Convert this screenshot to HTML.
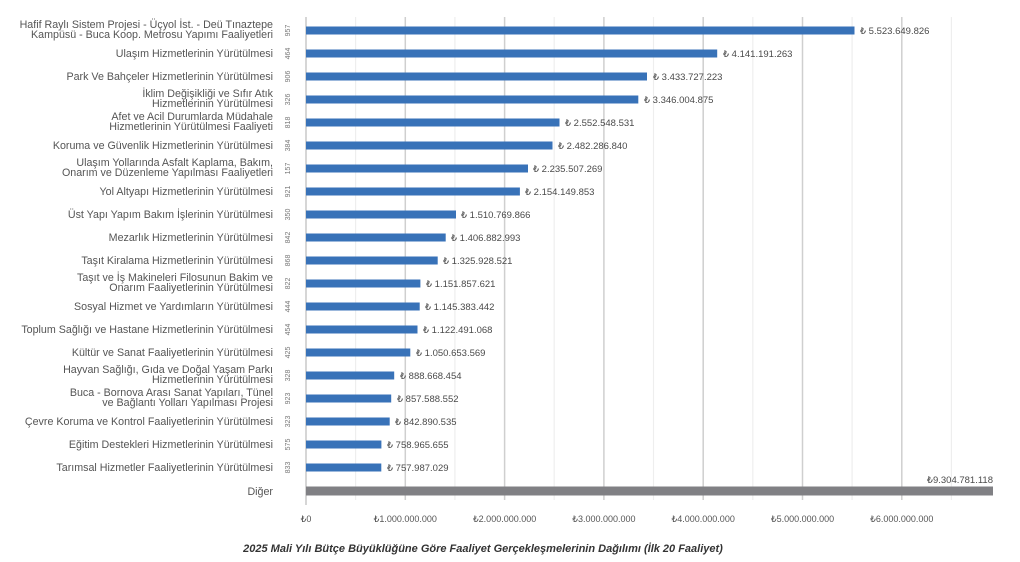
<!DOCTYPE html>
<html><head><meta charset="utf-8"><style>
html,body{margin:0;padding:0;background:#fff;}
svg{display:block;font-family:"Liberation Sans",sans-serif;}
.l{font-size:10.7px;fill:#555;text-anchor:end;}
.v{font-size:9.5px;fill:#4a4a4a;}
.n{font-size:7px;fill:#777;text-anchor:middle;}
.t{font-size:9px;fill:#555;text-anchor:middle;}
</style></head><body>
<svg width="1020" height="562" viewBox="0 0 1020 562">
<g stroke="#eeeeee" stroke-width="1.2">
<line x1="355.6" y1="17" x2="355.6" y2="500"/><line x1="454.9" y1="17" x2="454.9" y2="500"/><line x1="554.2" y1="17" x2="554.2" y2="500"/><line x1="653.5" y1="17" x2="653.5" y2="500"/><line x1="752.8" y1="17" x2="752.8" y2="500"/><line x1="852.1" y1="17" x2="852.1" y2="500"/><line x1="951.4" y1="17" x2="951.4" y2="500"/>
</g>
<g stroke="#cfcfcf" stroke-width="1.5">
<line x1="405.3" y1="17" x2="405.3" y2="500"/><line x1="504.6" y1="17" x2="504.6" y2="500"/><line x1="603.9" y1="17" x2="603.9" y2="500"/><line x1="703.2" y1="17" x2="703.2" y2="500"/><line x1="802.5" y1="17" x2="802.5" y2="500"/><line x1="901.8" y1="17" x2="901.8" y2="500"/>
</g>
<line x1="306" y1="17" x2="306" y2="505" stroke="#c8c8c8" stroke-width="1.5"/>
<g fill="#3872b8">
<rect x="306" y="26.5" width="548.5" height="8"/>
<rect x="306" y="49.5" width="411.2" height="8"/>
<rect x="306" y="72.5" width="341" height="8"/>
<rect x="306" y="95.5" width="332.3" height="8"/>
<rect x="306" y="118.5" width="253.5" height="8"/>
<rect x="306" y="141.5" width="246.5" height="8"/>
<rect x="306" y="164.5" width="222" height="8"/>
<rect x="306" y="187.5" width="213.9" height="8"/>
<rect x="306" y="210.5" width="150" height="8"/>
<rect x="306" y="233.5" width="139.7" height="8"/>
<rect x="306" y="256.5" width="131.7" height="8"/>
<rect x="306" y="279.5" width="114.4" height="8"/>
<rect x="306" y="302.5" width="113.7" height="8"/>
<rect x="306" y="325.5" width="111.5" height="8"/>
<rect x="306" y="348.5" width="104.3" height="8"/>
<rect x="306" y="371.5" width="88.2" height="8"/>
<rect x="306" y="394.5" width="85.2" height="8"/>
<rect x="306" y="417.5" width="83.7" height="8"/>
<rect x="306" y="440.5" width="75.4" height="8"/>
<rect x="306" y="463.5" width="75.3" height="8"/>
</g>
<rect x="306" y="486.5" width="687" height="9" fill="#808084"/>
<g class="v">
<text x="860" y="34">₺ 5.523.649.826</text>
<text x="723" y="57">₺ 4.141.191.263</text>
<text x="653" y="80">₺ 3.433.727.223</text>
<text x="644" y="103">₺ 3.346.004.875</text>
<text x="565" y="126">₺ 2.552.548.531</text>
<text x="558" y="149">₺ 2.482.286.840</text>
<text x="533" y="172">₺ 2.235.507.269</text>
<text x="525" y="195">₺ 2.154.149.853</text>
<text x="461" y="218">₺ 1.510.769.866</text>
<text x="451" y="241">₺ 1.406.882.993</text>
<text x="443" y="264">₺ 1.325.928.521</text>
<text x="426" y="287">₺ 1.151.857.621</text>
<text x="425" y="310">₺ 1.145.383.442</text>
<text x="423" y="333">₺ 1.122.491.068</text>
<text x="416" y="356">₺ 1.050.653.569</text>
<text x="400" y="379">₺ 888.668.454</text>
<text x="397" y="402">₺ 857.588.552</text>
<text x="395" y="425">₺ 842.890.535</text>
<text x="387" y="448">₺ 758.965.655</text>
<text x="387" y="471">₺ 757.987.029</text>
<text x="993" y="483" text-anchor="end">₺9.304.781.118</text>
</g>
<g class="l">
<text x="273" y="28">Hafif Raylı Sistem Projesi - Üçyol İst. - Deü Tınaztepe</text>
<text x="273" y="38">Kampüsü - Buca Koop. Metrosu Yapımı Faaliyetleri</text>
<text x="273" y="57">Ulaşım Hizmetlerinin Yürütülmesi</text>
<text x="273" y="80">Park Ve Bahçeler Hizmetlerinin Yürütülmesi</text>
<text x="273" y="97">İklim Değişikliği ve Sıfır Atık</text>
<text x="273" y="107">Hizmetlerinin Yürütülmesi</text>
<text x="273" y="120">Afet ve Acil Durumlarda Müdahale</text>
<text x="273" y="130">Hizmetlerinin Yürütülmesi Faaliyeti</text>
<text x="273" y="149">Koruma ve Güvenlik Hizmetlerinin Yürütülmesi</text>
<text x="273" y="166">Ulaşım Yollarında Asfalt Kaplama, Bakım,</text>
<text x="273" y="176">Onarım ve Düzenleme Yapılması Faaliyetleri</text>
<text x="273" y="195">Yol Altyapı Hizmetlerinin Yürütülmesi</text>
<text x="273" y="218">Üst Yapı Yapım Bakım İşlerinin Yürütülmesi</text>
<text x="273" y="241">Mezarlık Hizmetlerinin Yürütülmesi</text>
<text x="273" y="264">Taşıt Kiralama Hizmetlerinin Yürütülmesi</text>
<text x="273" y="281">Taşıt ve İş Makineleri Filosunun Bakim ve</text>
<text x="273" y="291">Onarım Faaliyetlerinin Yürütülmesi</text>
<text x="273" y="310">Sosyal Hizmet ve Yardımların Yürütülmesi</text>
<text x="273" y="333">Toplum Sağlığı ve Hastane Hizmetlerinin Yürütülmesi</text>
<text x="273" y="356">Kültür ve Sanat Faaliyetlerinin Yürütülmesi</text>
<text x="273" y="373">Hayvan Sağlığı, Gıda ve Doğal Yaşam Parkı</text>
<text x="273" y="383">Hizmetlerinin Yürütülmesi</text>
<text x="273" y="396">Buca - Bornova Arası Sanat Yapıları, Tünel</text>
<text x="273" y="406">ve Bağlantı Yolları Yapılması Projesi</text>
<text x="273" y="425">Çevre Koruma ve Kontrol Faaliyetlerinin Yürütülmesi</text>
<text x="273" y="448">Eğitim Destekleri Hizmetlerinin Yürütülmesi</text>
<text x="273" y="471">Tarımsal Hizmetler Faaliyetlerinin Yürütülmesi</text>
<text x="273" y="495">Diğer</text>
</g>
<g class="n">
<text transform="translate(290,30.5) rotate(-90)">957</text>
<text transform="translate(290,53.5) rotate(-90)">464</text>
<text transform="translate(290,76.5) rotate(-90)">906</text>
<text transform="translate(290,99.5) rotate(-90)">326</text>
<text transform="translate(290,122.5) rotate(-90)">818</text>
<text transform="translate(290,145.5) rotate(-90)">384</text>
<text transform="translate(290,168.5) rotate(-90)">157</text>
<text transform="translate(290,191.5) rotate(-90)">921</text>
<text transform="translate(290,214.5) rotate(-90)">350</text>
<text transform="translate(290,237.5) rotate(-90)">842</text>
<text transform="translate(290,260.5) rotate(-90)">868</text>
<text transform="translate(290,283.5) rotate(-90)">822</text>
<text transform="translate(290,306.5) rotate(-90)">444</text>
<text transform="translate(290,329.5) rotate(-90)">454</text>
<text transform="translate(290,352.5) rotate(-90)">425</text>
<text transform="translate(290,375.5) rotate(-90)">328</text>
<text transform="translate(290,398.5) rotate(-90)">923</text>
<text transform="translate(290,421.5) rotate(-90)">323</text>
<text transform="translate(290,444.5) rotate(-90)">575</text>
<text transform="translate(290,467.5) rotate(-90)">833</text>
</g>
<g class="t">
<text x="306" y="522">₺0</text>
<text x="405.3" y="522">₺1.000.000.000</text>
<text x="504.6" y="522">₺2.000.000.000</text>
<text x="603.9" y="522">₺3.000.000.000</text>
<text x="703.2" y="522">₺4.000.000.000</text>
<text x="802.5" y="522">₺5.000.000.000</text>
<text x="901.8" y="522">₺6.000.000.000</text>
</g>
<text x="483" y="552" text-anchor="middle" font-size="11" font-weight="bold" font-style="italic" fill="#333">2025 Mali Yılı Bütçe Büyüklüğüne Göre Faaliyet Gerçekleşmelerinin Dağılımı (İlk 20 Faaliyet)</text>
</svg>
</body></html>
